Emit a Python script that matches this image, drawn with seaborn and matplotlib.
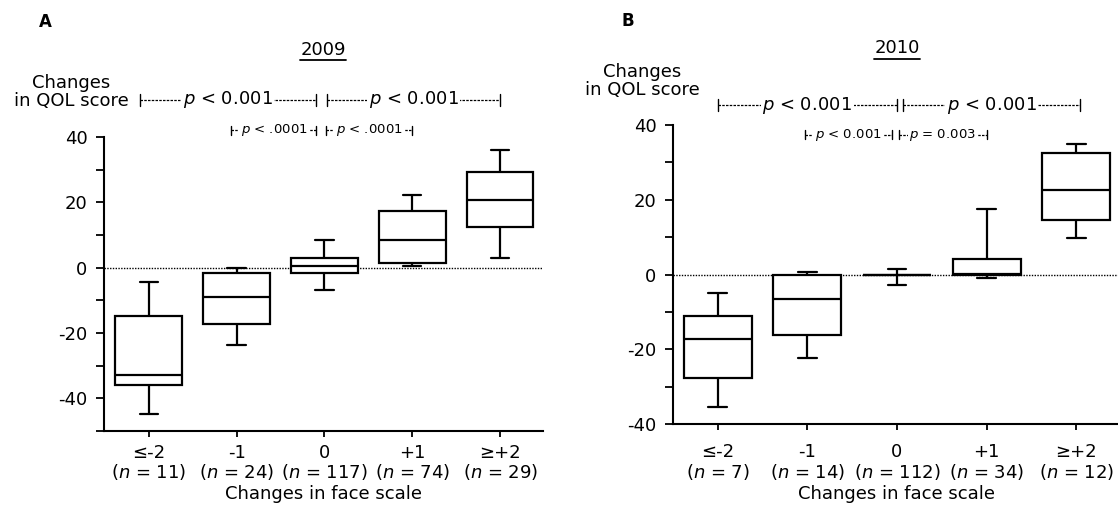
import matplotlib
matplotlib.use("Agg")
import matplotlib.pyplot as plt
import matplotlib.transforms as mtransforms
from matplotlib.lines import Line2D
from matplotlib.ticker import MultipleLocator
import pandas as pd
import seaborn as sns

W, H = 1118, 526

categories = ["≤-2", "-1", "0", "+1", "≥+2"]
n_2009 = [11, 24, 117, 74, 29]
n_2010 = [7, 14, 112, 34, 12]

# five-number summaries (whiskers = min / max)
min_2009 = [-44.9, -23.8, -6.8, 0.4, 3.1]
q1_2009 = [-36.0, -17.1, -1.5, 1.5, 12.4]
med_2009 = [-32.9, -9.1, 0.4, 8.6, 20.6]
q3_2009 = [-14.7, -1.6, 3.0, 17.2, 29.3]
max_2009 = [-4.4, 0.0, 8.4, 22.3, 35.9]

min_2010 = [-35.5, -22.3, -2.8, -1.0, 9.7]
q1_2010 = [-27.7, -16.1, 0.0, 0.0, 14.7]
med_2010 = [-17.2, -6.6, 0.0, 0.2, 22.5]
q3_2010 = [-11.1, 0.0, 0.0, 4.2, 32.4]
max_2010 = [-4.9, 0.8, 1.4, 17.4, 34.9]


def make_frame(mins, q1s, meds, q3s, maxs):
    # five points per group -> quartiles of the points are exactly q1/median/q3
    rows = []
    for cat, five in zip(categories, zip(mins, q1s, meds, q3s, maxs)):
        for v in five:
            rows.append({"face": cat, "qol": v})
    return pd.DataFrame(rows)


sns.set_style("ticks")
plt.rcParams["font.family"] = ["DejaVu Sans"]
plt.rcParams["font.size"] = 13
plt.rcParams["axes.unicode_minus"] = False
for key in ("text.color", "axes.labelcolor", "xtick.color", "ytick.color", "axes.edgecolor"):
    plt.rcParams[key] = "black"

fig = plt.figure(figsize=(W / 100, H / 100), dpi=100)


def px_rect(left, right, top, bottom):
    return [left / W, 1 - bottom / H, (right - left) / W, (bottom - top) / H]


def fy(ypx):
    return 1 - ypx / H


def bracket(ax, x1, x2, ypx, label, size, family, tick):
    trans = mtransforms.blended_transform_factory(ax.transData, fig.transFigure)
    y = fy(ypx)
    h = tick / H / 2
    ax.plot([x1, x2], [y, y], transform=trans, color="black", lw=0.9,
            ls=(0, (2, 1)), clip_on=False)
    for x in (x1, x2):
        ax.plot([x, x], [y - h, y + h], transform=trans, color="black", lw=1.0, clip_on=False)
    ax.text((x1 + x2) / 2, y, label, transform=trans, ha="center", va="center",
            fontsize=size, family=family, clip_on=False,
            bbox=dict(fc="white", ec="none", pad=1.0))


def panel(rect, df, ns, xpad):
    ax = fig.add_axes(rect)
    ax.axhline(0, color="black", lw=1.0, ls=(0, (1, 1)), zorder=0.5)
    sns.boxplot(data=df, x="face", y="qol", order=categories, whis=(0, 100),
                width=0.76, color="white", linecolor="black", linewidth=1.6,
                showfliers=False, capwidths=0.21, ax=ax)
    ax.set_xticks(range(len(categories)))
    ax.set_xticklabels([f"{c}\n($n$ = {n})" for c, n in zip(categories, ns)],
                       linespacing=1.05)
    ax.set_xlabel("Changes in face scale", labelpad=2)
    ax.set_ylabel("")
    ax.yaxis.set_major_locator(MultipleLocator(20))
    ax.yaxis.set_minor_locator(MultipleLocator(10))
    ax.tick_params(axis="y", which="both", length=6, width=1.3, direction="out", pad=6)
    ax.tick_params(axis="x", length=4, width=1.3, direction="out", pad=xpad)
    for s in ("top", "right"):
        ax.spines[s].set_visible(False)
    for s in ("left", "bottom"):
        ax.spines[s].set_linewidth(1.5)
    return ax


narrow = ["Liberation Sans Narrow", "DejaVu Sans"]

# panel A, 2009
axA = panel(px_rect(104, 543, 137, 431),
            make_frame(min_2009, q1_2009, med_2009, q3_2009, max_2009), n_2009, 5)
bracket(axA, -0.1, 1.9, 100, "$p$ < 0.001", 13, ["DejaVu Sans"], 12)
bracket(axA, 2.03, 4.0, 100, "$p$ < 0.001", 13, ["DejaVu Sans"], 12)
bracket(axA, 0.94, 1.91, 130, "$p$ < .0001", 9.5, narrow, 9)
bracket(axA, 2.02, 3.0, 130, "$p$ < .0001", 9.5, narrow, 9)
axA.set_xlim(-0.51, 4.49)
axA.set_ylim(-50, 40)

# panel B, 2010
axB = panel(px_rect(673, 1121, 125, 424),
            make_frame(min_2010, q1_2010, med_2010, q3_2010, max_2010), n_2010, 10)
bracket(axB, 0.0, 2.0, 105, "$p$ < 0.001", 13, ["DejaVu Sans"], 12)
bracket(axB, 2.07, 4.04, 105, "$p$ < 0.001", 13, ["DejaVu Sans"], 12)
bracket(axB, 0.97, 1.94, 135, "$p$ < 0.001", 9.5, narrow, 9)
bracket(axB, 2.02, 3.0, 135, "$p$ = 0.003", 9.5, narrow, 9)
axB.set_xlim(-0.5, 4.5)
axB.set_ylim(-40, 40)

fig.text(45 / W, fy(22), "A", ha="center", va="center", fontsize=12, fontweight="bold")
fig.text(628 / W, fy(21), "B", ha="center", va="center", fontsize=12, fontweight="bold")
fig.text(71 / W, fy(92), "Changes\nin QOL score", ha="center", va="center",
         multialignment="center", linespacing=0.95)
fig.text(642 / W, fy(81), "Changes\nin QOL score", ha="center", va="center",
         multialignment="center", linespacing=0.95)

tA = fig.text(323 / W, fy(50), "2009", ha="center", va="center")
tB = fig.text(897 / W, fy(48), "2010", ha="center", va="center")
fig.canvas.draw()
renderer = fig.canvas.get_renderer()
for t, uy in ((tA, 60), (tB, 59)):
    bb = t.get_window_extent(renderer)
    fig.add_artist(Line2D([bb.x0 / W, bb.x1 / W], [fy(uy), fy(uy)], color="black", lw=1.3))

fig.savefig("out.png", dpi=100)
